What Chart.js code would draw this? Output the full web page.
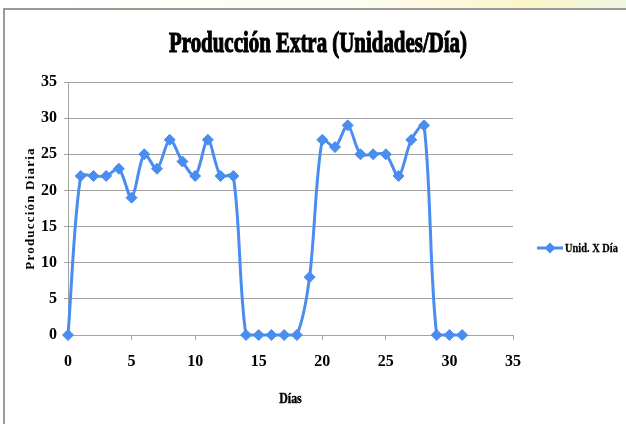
<!DOCTYPE html>
<html>
<head>
<meta charset="utf-8">
<script src="https://cdn.jsdelivr.net/npm/chart.js@4.4.1/dist/chart.umd.min.js"></script>
<style>
  body { margin: 0; background: #fff; }
  canvas { display: block; }
</style>
</head>
<body>
<canvas id="prod-chart" width="626" height="424"></canvas>
<script>
var dias = [0, 1, 2, 3, 4, 5, 6, 7, 8, 9, 10, 11, 12, 13, 14, 15, 16, 17, 18, 19, 20, 21, 22, 23, 24, 25, 26, 27, 28, 29, 30, 31];
var unidades = [0, 22, 22, 22, 23, 19, 25, 23, 27, 24, 22, 27, 22, 22, 0, 0, 0, 0, 0, 8, 27, 26, 29, 25, 25, 25, 22, 27, 29, 0, 0, 0];
var ejeTicks = [0, 5, 10, 15, 20, 25, 30, 35];

var titulo = 'Producción Extra (Unidades/Día)';
var tituloX = 'Días';
var tituloY = 'Producción Diaria';
var serie = 'Unid. X Día';

var azul = '#4a8df0';
var gris = '#a3a3a3';
var fuente = '"Liberation Serif", "Times New Roman", serif';

// texto estrecho: se comprime en horizontal como en la hoja original
function textoEstrecho(ctx, txt, x, y, size, sx, align, grueso) {
    ctx.save();
    ctx.font = 'bold ' + size + 'px ' + fuente;
    ctx.textAlign = align || 'center';
    ctx.textBaseline = 'alphabetic';
    ctx.fillStyle = '#000';
    ctx.translate(x, y);
    ctx.scale(sx, 1);
    ctx.fillText(txt, 0, 0);
    if (grueso) {
        ctx.strokeStyle = '#000';
        ctx.lineWidth = grueso;
        ctx.strokeText(txt, 0, 0);
    }
    ctx.restore();
}

var marco = {
    id: 'marco',
    beforeDraw: function (c) {
        var ctx = c.ctx;
        ctx.save();
        var g = ctx.createLinearGradient(0, 0, 626, 0);
        g.addColorStop(0, '#ffffff');
        g.addColorStop(0.55, '#fdfdf4');
        g.addColorStop(0.85, '#fbf6c8');
        g.addColorStop(1, '#eef7e0');
        ctx.fillStyle = g;
        ctx.fillRect(0, 0, 626, 8);
        ctx.strokeStyle = '#9a9a9a';
        ctx.lineWidth = 2;
        ctx.beginPath();
        ctx.moveTo(4, 424);
        ctx.lineTo(4, 9);
        ctx.lineTo(626, 9);
        ctx.stroke();
        ctx.restore();
    },
    afterDraw: function (c) {
        var ctx = c.ctx;
        var a = c.chartArea;
        // titulo principal
        ctx.save();
        ctx.font = 'bold 30px ' + fuente;
        var w = ctx.measureText(titulo).width;
        ctx.restore();
        textoEstrecho(ctx, titulo, 318, 52, 30, 298 / w, 'center', 1.2);

        // titulo eje X
        textoEstrecho(ctx, tituloX, (a.left + a.right) / 2, 403, 14, 0.85, 'center', 0.4);

        // titulo eje Y, girado
        ctx.save();
        ctx.translate(34, (a.top + a.bottom) / 2);
        ctx.rotate(-Math.PI / 2);
        ctx.font = 'bold 13px ' + fuente;
        ctx.letterSpacing = '1.2px';
        ctx.textAlign = 'center';
        ctx.fillStyle = '#000';
        ctx.fillText(tituloY, 0, 0);
        ctx.restore();

        // leyenda
        var ly = 248;
        ctx.save();
        ctx.strokeStyle = azul;
        ctx.lineWidth = 3;
        ctx.beginPath();
        ctx.moveTo(537, ly);
        ctx.lineTo(563, ly);
        ctx.stroke();
        ctx.fillStyle = azul;
        ctx.beginPath();
        ctx.moveTo(550, ly - 5.5);
        ctx.lineTo(555.5, ly);
        ctx.lineTo(550, ly + 5.5);
        ctx.lineTo(544.5, ly);
        ctx.closePath();
        ctx.fill();
        ctx.restore();
        textoEstrecho(ctx, serie, 565, ly + 4, 13, 0.8, 'left', 0.3);
    }
};

var chart = document.getElementById('prod-chart');

let prodChart = new Chart(chart, {
    type: 'scatter',
    data: {
        datasets: [{
            label: serie,
            data: dias.map(function (d, i) { return { x: d, y: unidades[i] }; }),
            showLine: true,
            tension: 0.3,
            borderColor: azul,
            backgroundColor: azul,
            borderWidth: 3,
            pointStyle: 'rectRot',
            pointRadius: 5.5,
            pointBorderWidth: 1,
            pointBorderColor: azul,
            pointBackgroundColor: azul,
            clip: false
        }]
    },
    plugins: [marco],
    options: {
        responsive: false,
        animation: false,
        layout: { padding: { left: 0, top: 82, right: 113, bottom: 0 } },
        plugins: {
            legend: { display: false },
            tooltip: { enabled: false }
        },
        scales: {
            x: {
                type: 'linear',
                min: 0,
                max: 35,
                afterBuildTicks: function (s) { s.ticks = ejeTicks.map(function (v) { return { value: v }; }); },
                afterFit: function (s) { s.height = 89; },
                border: { color: gris, width: 1 },
                grid: { color: 'transparent', tickColor: gris, tickLength: 5, drawOnChartArea: false },
                ticks: { padding: 12, color: '#000', font: { family: fuente, size: 16, weight: 'bold' }, maxRotation: 0 }
            },
            y: {
                min: 0,
                max: 35,
                afterBuildTicks: function (s) { s.ticks = ejeTicks.map(function (v) { return { value: v }; }); },
                afterFit: function (s) { s.width = 68; },
                border: { color: gris, width: 1 },
                grid: { color: gris, tickColor: gris, tickLength: 4, lineWidth: 1 },
                ticks: { padding: 7, color: '#000', font: { family: fuente, size: 16, weight: 'bold' } }
            }
        }
    }
});
</script>
</body>
</html>
